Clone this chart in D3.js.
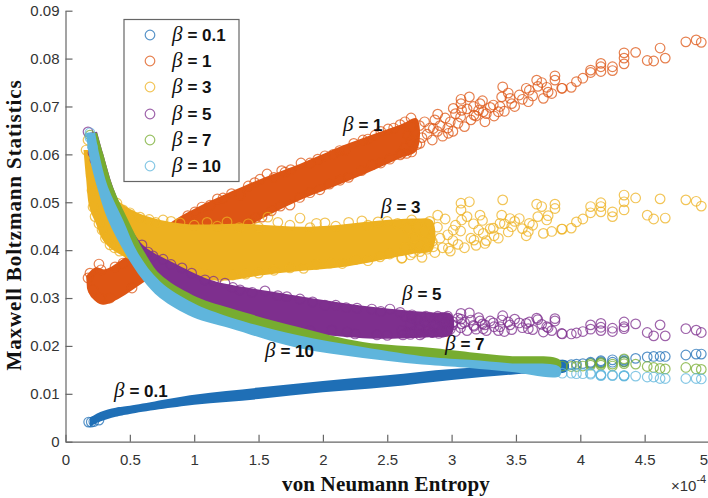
<!DOCTYPE html>
<html>
<head>
<meta charset="utf-8">
<script src="https://cdn.jsdelivr.net/npm/d3@7.9.0/dist/d3.min.js"></script>
<style>
  html, body { margin: 0; background: #fff; }
  svg { display: block; }
  .axis text { font-family: "Liberation Sans", sans-serif; font-size: 15px; fill: #333; }
  .axis path, .axis line { stroke: #666; stroke-width: 1.2; }
  .title { font-family: "Liberation Serif", serif; font-weight: bold; font-size: 21px; fill: #111; }
  .beta { font-family: "Liberation Serif", serif; font-style: italic; font-size: 21px; }
  .eq { font-family: "Liberation Sans", sans-serif; font-weight: bold; font-size: 17px; }
  .marks { filter: blur(0.45px); }
</style>
</head>
<body>
<div id="chart"></div>
<script>
const betas = ['0.1', '1', '3', '5', '7', '10'];
const colors = ['#1f6fb6', '#de5514', '#edb120', '#7e2f8e', '#77ac30', '#5fb5dc'];
const xTicks = [0, 0.5, 1, 1.5, 2, 2.5, 3, 3.5, 4, 4.5, 5];
const yTicks = [0, 0.01, 0.02, 0.03, 0.04, 0.05, 0.06, 0.07, 0.08, 0.09];

// sparse part of the cloud, every beta has a point at the same entropy
const midEntropy = [2.612, 2.69, 2.754, 2.858, 2.892, 2.975, 3.013, 3.073, 3.073, 3.078, 3.138, 3.174, 3.221, 3.246, 3.259, 3.324, 3.363, 3.376, 3.389, 3.397, 3.454, 3.467, 3.526, 3.596, 3.604, 3.661, 3.7, 3.713, 3.739, 3.778, 3.803, 3.803, 3.855];
const midBeta1 = [0.0602, 0.0659, 0.0623, 0.0654, 0.0684, 0.0644, 0.0696, 0.0715, 0.0706, 0.0692, 0.072, 0.0682, 0.0706, 0.0689, 0.0668, 0.0703, 0.0689, 0.07, 0.072, 0.0741, 0.0717, 0.0706, 0.0724, 0.071, 0.0734, 0.0755, 0.075, 0.0717, 0.074, 0.0727, 0.0764, 0.0755, 0.0738];
const midBeta3 = [0.0383, 0.0463, 0.0397, 0.0407, 0.0473, 0.0404, 0.0442, 0.0498, 0.0484, 0.0463, 0.0501, 0.0421, 0.0473, 0.0435, 0.0414, 0.0446, 0.0425, 0.0456, 0.0473, 0.0505, 0.0466, 0.0449, 0.0466, 0.0439, 0.0456, 0.0496, 0.0491, 0.0435, 0.0463, 0.0439, 0.0496, 0.0487, 0.0444];
const midBeta5 = [0.0232, 0.0258, 0.0235, 0.024, 0.0262, 0.0238, 0.025, 0.0268, 0.0256, 0.0246, 0.0269, 0.0241, 0.0252, 0.0236, 0.0244, 0.0248, 0.0232, 0.024, 0.0254, 0.0263, 0.0244, 0.0234, 0.0248, 0.0236, 0.025, 0.0258, 0.0245, 0.0229, 0.024, 0.0232, 0.0257, 0.0252, 0.0226];

// the crowded stretch just past the solid bands, estimated from the overlap
const denseEntropy = [2.64, 2.66, 2.68, 2.71, 2.73, 2.75, 2.77, 2.79, 2.81, 2.83, 2.85, 2.87, 2.89, 2.91, 2.93, 2.95, 2.97, 2.99, 3.01, 3.03, 3.05, 3.07, 3.1, 3.12, 3.15, 3.17, 3.19, 3.21, 3.24, 3.27, 3.3, 3.33, 3.41, 3.44, 3.49, 3.55, 3.58, 3.63, 3.67, 3.75];
const denseBeta1 = [0.0615, 0.064, 0.0628, 0.0648, 0.062, 0.066, 0.0635, 0.0668, 0.0642, 0.0655, 0.063, 0.0672, 0.0648, 0.066, 0.0638, 0.0676, 0.0655, 0.0668, 0.0648, 0.0685, 0.0665, 0.0678, 0.0658, 0.0695, 0.0672, 0.07, 0.068, 0.0692, 0.0712, 0.0685, 0.0698, 0.068, 0.069, 0.0728, 0.07, 0.0715, 0.0738, 0.0722, 0.0742, 0.073];
const denseBeta3 = [0.0405, 0.0445, 0.039, 0.0425, 0.0452, 0.041, 0.0385, 0.0438, 0.0402, 0.046, 0.0418, 0.0395, 0.0448, 0.0425, 0.0405, 0.0465, 0.0432, 0.0398, 0.042, 0.0452, 0.0412, 0.044, 0.0405, 0.047, 0.0425, 0.0455, 0.041, 0.0442, 0.0462, 0.042, 0.0445, 0.043, 0.0455, 0.0438, 0.046, 0.0445, 0.043, 0.0452, 0.047, 0.0472];
const denseBeta5 = [0.0262, 0.0228, 0.0245, 0.023, 0.0255, 0.024, 0.0226, 0.025, 0.0233, 0.026, 0.0228, 0.0245, 0.0236, 0.0256, 0.0229, 0.0248, 0.0262, 0.0235, 0.0244, 0.023, 0.0258, 0.0238, 0.0249, 0.0232, 0.0254, 0.0243, 0.0235, 0.0259, 0.0246, 0.0232, 0.0252, 0.024, 0.023, 0.025, 0.0256, 0.0238, 0.0247, 0.0234, 0.0255, 0.0238];

const tailEntropy = [4.94, 4.9, 4.82, 4.66, 4.62, 4.57, 4.52, 4.43, 4.34, 4.34, 4.34, 4.25, 4.25, 4.16, 4.16, 4.16, 4.08, 4.08, 4.02, 3.97, 3.93, 3.86];
const tailBeta01 = [0.0183, 0.0183, 0.0181, 0.0178, 0.0178, 0.0178, 0.0177, 0.0174, 0.0171, 0.0168, 0.0167, 0.0171, 0.0166, 0.0169, 0.0167, 0.0165, 0.0166, 0.0164, 0.0163, 0.0162, 0.0161, 0.016];
const tailBeta1 = [0.0834, 0.0839, 0.0835, 0.0801, 0.0822, 0.0795, 0.0796, 0.0813, 0.0812, 0.0801, 0.0789, 0.0783, 0.0775, 0.079, 0.0783, 0.0773, 0.0776, 0.0771, 0.0759, 0.0752, 0.074, 0.0738];
const tailBeta3 = [0.0492, 0.0502, 0.0505, 0.0467, 0.0507, 0.0465, 0.0473, 0.0509, 0.0515, 0.0501, 0.0484, 0.048, 0.047, 0.0499, 0.0491, 0.048, 0.0491, 0.0478, 0.0465, 0.0459, 0.0446, 0.0444];
const tailBeta5 = [0.0228, 0.0233, 0.0236, 0.0221, 0.0244, 0.0221, 0.0228, 0.0246, 0.025, 0.024, 0.0236, 0.0237, 0.023, 0.0247, 0.0239, 0.0232, 0.0244, 0.0235, 0.023, 0.0227, 0.0225, 0.0225];
const tailBeta7 = [0.0151, 0.0152, 0.0155, 0.0152, 0.0153, 0.0155, 0.0157, 0.0162, 0.0173, 0.0167, 0.0163, 0.0162, 0.0158, 0.0165, 0.0163, 0.016, 0.0163, 0.016, 0.0158, 0.0157, 0.0157, 0.0158];
const tailBeta10 = [0.0131, 0.0132, 0.0132, 0.0132, 0.0132, 0.0135, 0.0135, 0.0137, 0.0138, 0.0138, 0.0137, 0.0139, 0.0138, 0.014, 0.0139, 0.0138, 0.0143, 0.0141, 0.0142, 0.0142, 0.0143, 0.0143];

// single circles that stick out of the solid bands
const edgeBeta01 = [[0.18, 0.0041], [0.2, 0.0041], [0.22, 0.0042], [0.26, 0.0045]];
const edgeBeta1 = [[0.26, 0.0371], [0.276, 0.0359], [0.19, 0.0352], [0.175, 0.0342], [0.214, 0.0317], [0.268, 0.03], [0.346, 0.03], [0.447, 0.0373], [0.385, 0.0365], [0.517, 0.0321], [0.237, 0.0574],
  [0.95, 0.0472], [1.006, 0.048], [1.06, 0.049], [1.123, 0.0494], [1.18, 0.0507], [1.224, 0.0509], [1.29, 0.0518], [1.355, 0.0515], [1.42, 0.0534], [1.47, 0.0541], [1.511, 0.0548], [1.566, 0.0559], [1.62, 0.0552], [1.68, 0.0566], [1.706, 0.0563], [1.75, 0.0568], [1.83, 0.0582], [1.9, 0.0582], [1.96, 0.059], [2.016, 0.0597], [2.08, 0.06], [2.13, 0.0608], [2.172, 0.0609], [2.24, 0.0623], [2.311, 0.063], [2.35, 0.0632], [2.405, 0.064], [2.45, 0.0648], [2.506, 0.0653], [2.55, 0.0655], [2.6, 0.0662], [2.638, 0.0668], [2.685, 0.0676],
  [1.36, 0.0452], [1.434, 0.0459], [1.48, 0.0468], [1.527, 0.0469], [1.6, 0.0482], [1.67, 0.0492], [1.744, 0.0494], [1.82, 0.051], [1.9, 0.052], [1.977, 0.0526], [2.05, 0.0538], [2.133, 0.0546], [2.2, 0.0552], [2.3, 0.0566], [2.382, 0.0578], [2.45, 0.0582], [2.52, 0.059], [2.6, 0.0599], [2.65, 0.0602], [2.69, 0.0605]];
const edgeBeta3 = [[0.16, 0.0609], [0.175, 0.063], [0.229, 0.0577], [0.2, 0.056], [0.206, 0.0525], [0.21, 0.054], [0.214, 0.049], [0.23, 0.047], [0.26, 0.0455], [0.284, 0.0442], [0.31, 0.0425], [0.346, 0.0411], [0.38, 0.0405], [0.42, 0.0398],
  [0.4, 0.0498], [0.447, 0.0484], [0.5, 0.0478], [0.579, 0.0469], [0.65, 0.0464], [0.7, 0.0458], [0.758, 0.0463], [0.82, 0.046], [0.89, 0.0457], [1, 0.0452], [1.1, 0.0458], [1.18, 0.045], [1.255, 0.0459], [1.35, 0.0447], [1.42, 0.0455], [1.5, 0.0448], [1.573, 0.0469], [1.65, 0.0458], [1.744, 0.0452], [1.822, 0.0467], [1.9, 0.0447], [1.95, 0.0456], [2.016, 0.0457], [2.1, 0.045], [2.2, 0.0458], [2.303, 0.0461], [2.35, 0.0452], [2.428, 0.0459], [2.5, 0.046], [2.58, 0.0456],
  [0.85, 0.0358], [0.983, 0.0354], [1.05, 0.035], [1.1, 0.0348], [1.2, 0.0345], [1.3, 0.0348], [1.4, 0.035], [1.5, 0.0352], [1.62, 0.0358], [1.744, 0.0363], [1.85, 0.0362], [1.95, 0.037], [2.055, 0.0373], [2.15, 0.0372], [2.25, 0.038], [2.35, 0.0378], [2.444, 0.0386], [2.52, 0.0392], [2.615, 0.0384], [2.7, 0.0395]];
const edgeBeta5 = [[0.175, 0.0647], [0.214, 0.0615], [0.214, 0.0603], [0.229, 0.0588],
  [0.594, 0.0411], [0.641, 0.0396], [0.68, 0.0388], [0.758, 0.0381], [0.82, 0.037], [0.905, 0.0363], [0.98, 0.0352], [1.084, 0.0338], [1.15, 0.0335], [1.239, 0.0331], [1.3, 0.0322], [1.356, 0.0317], [1.45, 0.0312], [1.55, 0.0315], [1.65, 0.0305], [1.72, 0.0303], [1.822, 0.0298], [1.92, 0.0292], [2.016, 0.0285], [2.1, 0.0285], [2.18, 0.028], [2.265, 0.0279], [2.38, 0.0277], [2.45, 0.0272], [2.521, 0.0277], [2.6, 0.027], [2.692, 0.0265], [2.8, 0.0262], [2.93, 0.0258],
  [1.9, 0.0232], [2.07, 0.0233], [2.187, 0.0229], [2.25, 0.0225], [2.42, 0.0223], [2.5, 0.0222], [2.622, 0.0223], [2.68, 0.0224], [2.754, 0.0223], [2.85, 0.0228], [2.9, 0.0226], [2.96, 0.0232]];
const edgeBeta7 = [[0.19, 0.064], [0.23, 0.0615]];
const edgeBeta10 = [[0.19, 0.0645], [0.19, 0.0635], [0.21, 0.0615]];

// outlines of the parts where the circles merge into solid colour, [entropy, value]
const bandBeta01Top = [[0.19, 0.005], [0.27, 0.0062], [0.39, 0.0071], [0.5, 0.0075], [1, 0.0098], [1.5, 0.0113], [2, 0.0127], [2.5, 0.0139], [3, 0.0152], [3.5, 0.0158], [3.9, 0.0168]];
const bandBeta01Low = [[0.19, 0.0032], [0.27, 0.0042], [0.39, 0.0052], [0.5, 0.0058], [1, 0.0077], [1.5, 0.0089], [2, 0.0103], [2.5, 0.0114], [3, 0.0129], [3.5, 0.0141], [3.9, 0.0148]];
const bandBeta1Top = [[0.16, 0.0346], [0.23, 0.0364], [0.307, 0.036], [0.447, 0.0382], [0.657, 0.0424], [0.89, 0.047], [1.43, 0.0539], [1.82, 0.058], [2.21, 0.0624], [2.6, 0.0662], [2.73, 0.0675]];
const bandBeta1Low = [[0.167, 0.032], [0.206, 0.03], [0.291, 0.0286], [0.423, 0.03], [0.602, 0.0332], [0.89, 0.0377], [1.43, 0.0452], [1.82, 0.0504], [2.21, 0.0546], [2.6, 0.0592], [2.73, 0.0608]];
const bandBeta3Top = [[0.19, 0.0609], [0.268, 0.0572], [0.33, 0.0532], [0.4, 0.0505], [0.579, 0.0476], [0.913, 0.0455], [1.356, 0.0455], [1.9, 0.0449], [2.444, 0.0462], [2.716, 0.0466], [2.85, 0.0462]];
const bandBeta3Low = [[0.14, 0.0609], [0.16, 0.055], [0.185, 0.049], [0.235, 0.0456], [0.3, 0.0417], [0.43, 0.039], [0.734, 0.0356], [0.99, 0.0341], [1.278, 0.0337], [1.511, 0.0347], [1.8, 0.0356], [2.187, 0.0366], [2.6, 0.0387], [2.716, 0.0393], [2.85, 0.04]];
const bandBeta5Top = [[0.245, 0.0647], [0.291, 0.0603], [0.369, 0.0532], [0.478, 0.0463], [0.602, 0.0411], [0.866, 0.037], [1.123, 0.0338], [1.278, 0.0328], [1.8, 0.0305], [2.31, 0.0284], [2.83, 0.027], [3, 0.0266]];
const bandBeta5Low = [[0.19, 0.0645], [0.268, 0.0532], [0.361, 0.0463], [0.734, 0.0338], [1.278, 0.027], [1.8, 0.0232], [2.31, 0.0216], [2.83, 0.0218], [3, 0.0224]];
const bandBeta7Top = [[0.245, 0.0645], [0.291, 0.0603], [0.369, 0.0532], [0.486, 0.0463], [0.618, 0.0394], [0.734, 0.035], [0.99, 0.0306], [1.278, 0.0279], [1.8, 0.024], [2.31, 0.0208], [2.83, 0.0196], [3.14, 0.0187], [3.45, 0.0179], [3.84, 0.0171]];
const bandBeta7Low = [[0.2, 0.0645], [0.25, 0.0532], [0.4, 0.0463], [0.55, 0.038], [0.734, 0.031], [0.99, 0.0275], [1.278, 0.025], [1.8, 0.021], [2.31, 0.019], [2.83, 0.017], [3.14, 0.0165], [3.45, 0.0158], [3.84, 0.015]];
const bandBeta10Top = [[0.23, 0.0645], [0.26, 0.0603], [0.33, 0.0532], [0.447, 0.0463], [0.563, 0.0394], [0.734, 0.0335], [0.99, 0.029], [1.278, 0.026], [1.8, 0.0223], [2.31, 0.0198], [2.83, 0.0177], [3.14, 0.0171], [3.45, 0.0164], [3.84, 0.0156]];
const bandBeta10Low = [[0.16, 0.0645], [0.18, 0.0603], [0.245, 0.0532], [0.33, 0.0463], [0.462, 0.0394], [0.6, 0.0338], [0.734, 0.03], [0.99, 0.026], [1.278, 0.0237], [1.8, 0.0196], [2.31, 0.0175], [2.83, 0.016], [3.14, 0.0154], [3.45, 0.0146], [3.84, 0.0137]];

function zipPoints(xs, ys) {
  return xs.map((x, i) => [x, ys[i]]);
}

const series = [
  { top: bandBeta01Top, low: bandBeta01Low, points: [...edgeBeta01, ...zipPoints(tailEntropy, tailBeta01)] },
  { top: bandBeta1Top, low: bandBeta1Low, points: [...edgeBeta1, ...zipPoints(denseEntropy, denseBeta1), ...zipPoints(midEntropy, midBeta1), ...zipPoints(tailEntropy, tailBeta1)] },
  { top: bandBeta3Top, low: bandBeta3Low, points: [...edgeBeta3, ...zipPoints(denseEntropy, denseBeta3), ...zipPoints(midEntropy, midBeta3), ...zipPoints(tailEntropy, tailBeta3)] },
  { top: bandBeta5Top, low: bandBeta5Low, points: [...edgeBeta5, ...zipPoints(denseEntropy, denseBeta5), ...zipPoints(midEntropy, midBeta5), ...zipPoints(tailEntropy, tailBeta5)] },
  { top: bandBeta7Top, low: bandBeta7Low, points: [...edgeBeta7, ...zipPoints(tailEntropy, tailBeta7)] },
  { top: bandBeta10Top, low: bandBeta10Low, points: [...edgeBeta10, ...zipPoints(tailEntropy, tailBeta10)] },
];

const width = 708;
const height = 498;

const svg = d3
  .select('#chart')
  .append('svg')
  .attr('width', width)
  .attr('height', height);

const xScale = d3.scaleLinear().domain([0, 5]).range([65.5, 709]);
const yScale = d3.scaleLinear().domain([0, 0.09]).range([441.7, 10.7]);

// bands and circles, series by series so that later ones cover earlier ones
const bandLine = d3
  .line()
  .x((d) => xScale(d[0]))
  .y((d) => yScale(d[1]))
  .curve(d3.curveCatmullRom);

const marks = svg.append('g').attr('class', 'marks');

series.forEach((s, i) => {
  const g = marks.append('g');
  g.append('path')
    .attr('d', bandLine([...s.top, ...[...s.low].reverse()]) + 'Z')
    .attr('fill', colors[i]);
  g.selectAll('circle')
    .data(s.points)
    .join('circle')
    .attr('cx', (d) => xScale(d[0]))
    .attr('cy', (d) => yScale(d[1]))
    .attr('r', 4.8)
    .attr('fill', 'none')
    .attr('stroke', colors[i])
    .attr('stroke-width', 1.2)
    .attr('stroke-opacity', 0.75);
});

// axes, ticks point inwards
const xAxis = d3
  .axisBottom(xScale)
  .tickValues(xTicks)
  .tickSizeInner(-7)
  .tickSizeOuter(0)
  .tickPadding(13)
  .tickFormat((d) => String(d));

const yAxis = d3
  .axisLeft(yScale)
  .tickValues(yTicks)
  .tickSizeInner(-7)
  .tickSizeOuter(0)
  .tickPadding(6)
  .tickFormat((d) => String(d));

const xAxisG = svg.append('g').attr('class', 'axis').attr('transform', 'translate(0, 441.7)').call(xAxis);
svg.append('g').attr('class', 'axis').attr('transform', 'translate(65.5, 0)').call(yAxis);

// the last label sits on the page edge
xAxisG.selectAll('.tick text').filter((d) => d === 5).attr('text-anchor', 'end').attr('x', -1.5);

svg.append('text').attr('class', 'title')
  .attr('x', 386).attr('y', 491)
  .attr('text-anchor', 'middle')
  .style('letter-spacing', '0.15px')
  .text('von Neumann Entropy');

svg.append('text').attr('class', 'title')
  .attr('transform', 'translate(21, 225) rotate(-90)')
  .attr('text-anchor', 'middle')
  .style('letter-spacing', '0.9px')
  .text('Maxwell Boltzmann Statistics');

// axis multiplier
const factor = svg.append('text')
  .attr('x', 671).attr('y', 491)
  .style('font-family', '"Liberation Sans", sans-serif')
  .style('font-size', '15px')
  .attr('fill', '#333');
factor.append('tspan').text('\u00d710');
factor.append('tspan').attr('dy', -8).style('font-size', '11px').text('-4');

function betaLabel(parent, x, y, value) {
  const t = parent.append('text').attr('x', x).attr('y', y).attr('fill', '#111');
  t.append('tspan').attr('class', 'beta').text('\u03b2');
  t.append('tspan').attr('class', 'eq').attr('dx', 5).text('= ' + value);
}

// legend
const legendY = [35, 61, 87, 114, 140, 166];
const legend = svg.append('g');
legend.append('rect')
  .attr('x', 124).attr('y', 19.5)
  .attr('width', 115).attr('height', 162)
  .attr('fill', '#fff')
  .attr('stroke', '#666')
  .attr('stroke-width', 1.2);

betas.forEach((b, i) => {
  legend.append('circle')
    .attr('cx', 150).attr('cy', legendY[i])
    .attr('r', 4.8)
    .attr('fill', 'none')
    .attr('stroke', colors[i])
    .attr('stroke-width', 1.2)
    .attr('stroke-opacity', 0.75);
  betaLabel(legend, 172, legendY[i] + 6, b);
});

// labels next to the clouds
const labelX = [114, 343, 381, 402, 445, 265];
const labelY = [397, 131, 213, 300, 350, 357];
betas.forEach((b, i) => betaLabel(svg, labelX[i], labelY[i], b));
</script>
</body>
</html>
